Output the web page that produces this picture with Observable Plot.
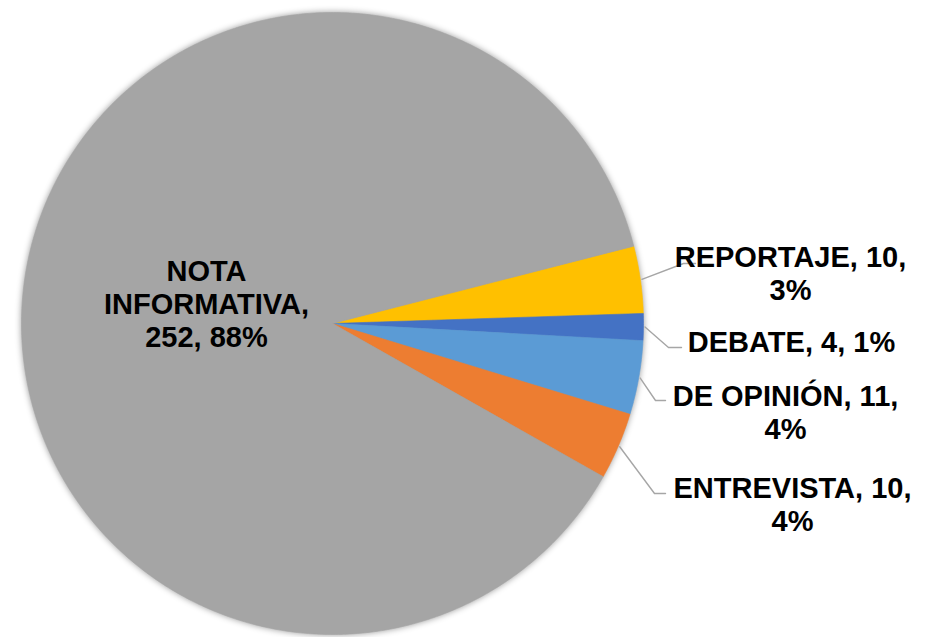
<!DOCTYPE html>
<html><head><meta charset="utf-8">
<script src="https://cdn.jsdelivr.net/npm/d3@7"></script>
<script src="https://cdn.jsdelivr.net/npm/@observablehq/plot@0.6"></script>
<style>
html,body{margin:0;padding:0;background:#fff;}
.slices{filter: drop-shadow(0 0 3px rgba(0,0,0,0.4));}
</style></head><body><div id="chart"></div>
<script>
// ---- data ----
const categories = ["REPORTAJE", "DEBATE", "DE OPINIÓN", "ENTREVISTA", "NOTA INFORMATIVA"];
const counts = [10, 4, 11, 10, 252];
const percentLabels = ["3%", "1%", "4%", "4%", "88%"];
const colors = ["#FFC000", "#4472C4", "#5B9BD5", "#ED7D31", "#A5A5A5"];
const labelTexts = ["REPORTAJE, 10,\n3%", "DEBATE, 4, 1%", "DE OPINIÓN, 11,\n4%", "ENTREVISTA, 10,\n4%", "NOTA\nINFORMATIVA,\n252, 88%"];

// ---- layout (pixels) ----
const W = 938, H = 637, cx = 332, cy = 323, R = 311, startAngle = 75.6;
const labelLayout = [
  {x: 790, y: 243, elbow: [683, 263], end: [695, 263]},
  {x: 791, y: 328, elbow: [668, 347], end: [681, 347]},
  {x: 785, y: 382, elbow: [655, 400], end: [665, 400]},
  {x: 792, y: 474, elbow: [654, 493], end: [665, 493]},
  {x: 206, y: 257, elbow: null, end: null}
];
const toU = px => (px - cx) / R;
const toV = py => (cy - py) / R;
const rad = a => a * Math.PI / 180;

// ---- slices ----
const total = d3.sum(counts);
const slicePts = [];
const leaderPts = [];
let cum = 0;
categories.forEach((name, i) => {
  const a0 = startAngle + cum / total * 360;
  cum += counts[i];
  const a1 = startAngle + cum / total * 360;
  slicePts.push({name, x: 0, y: 0});
  const n = Math.max(2, Math.ceil((a1 - a0) / 0.5));
  for (let k = 0; k <= n; k++) {
    const a = rad(a0 + (a1 - a0) * k / n);
    slicePts.push({name, x: Math.sin(a), y: Math.cos(a)});
  }
  slicePts.push({name, x: 0, y: 0});
  const L = labelLayout[i];
  if (L.elbow) {
    const am = rad((a0 + a1) / 2);
    leaderPts.push({name, x: Math.sin(am) * 1.005, y: Math.cos(am) * 1.005});
    leaderPts.push({name, x: toU(L.elbow[0]), y: toV(L.elbow[1])});
    leaderPts.push({name, x: toU(L.end[0]), y: toV(L.end[1])});
  }
});
const labels = categories.map((name, i) => ({
  name, text: labelTexts[i], x: toU(labelLayout[i].x), y: toV(labelLayout[i].y)
}));

const chart = Plot.plot({
  width: W, height: H, margin: 0,
  x: {domain: [toU(0), toU(W)], axis: null},
  y: {domain: [toV(H), toV(0)], axis: null},
  color: {domain: categories, range: colors},
  style: {background: "#fff"},
  marks: [
    Plot.line(slicePts, {x: "x", y: "y", z: "name", fill: "name", stroke: "name", strokeWidth: 0.6, curve: "linear", className: "slices"}),
    Plot.line(leaderPts, {x: "x", y: "y", z: "name", stroke: "#A6A6A6", strokeWidth: 1.4}),
    Plot.text(labels, {x: "x", y: "y", text: "text", textAnchor: "middle", lineAnchor: "top",
      fontSize: 29, fontWeight: "bold", fontFamily: "Liberation Sans, Arial, sans-serif",
      lineHeight: 1.14, fill: "#000"})
  ]
});
document.getElementById("chart").appendChild(chart);
</script></body></html>
